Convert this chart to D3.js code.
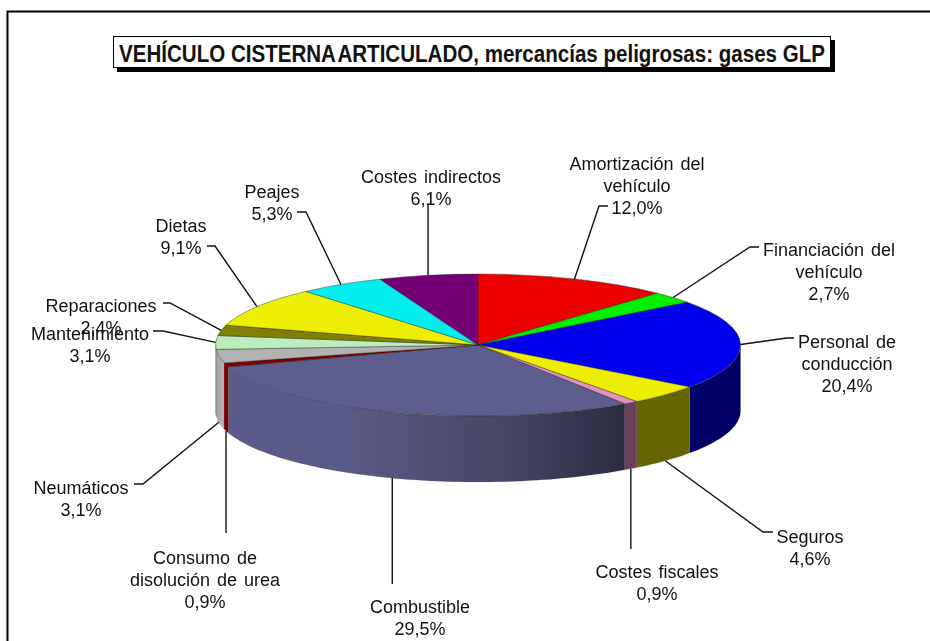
<!DOCTYPE html>
<html>
<head>
<meta charset="utf-8">
<script src="https://cdn.jsdelivr.net/npm/d3@7"></script>
<style>
  html, body { margin: 0; padding: 0; background: #fff; overflow: hidden; }
  svg { display: block; filter: blur(0.35px); }
  text { font-family: "Liberation Sans", Arial, sans-serif; fill: #111; }
</style>
</head>
<body>
<svg width="930" height="641"></svg>
<script>
// values, clockwise from 12 o'clock
var categories = [
  "Amortización del vehículo", "Financiación del vehículo", "Personal de conducción",
  "Seguros", "Costes fiscales", "Combustible", "Consumo de disolución de urea",
  "Neumáticos", "Mantenimiento", "Reparaciones", "Dietas", "Peajes", "Costes indirectos"
];
var values = [12.0, 2.7, 20.4, 4.6, 0.9, 29.5, 0.9, 3.1, 3.1, 2.4, 9.1, 5.3, 6.1];
var titleStart = "VEHÍCULO CISTERNA";
var titleEnd = "ARTICULADO, mercancías peligrosas: gases GLP";

// how the category names wrap in the labels
var labelLines = [
  ["Amortización del", "vehículo"], ["Financiación del", "vehículo"], ["Personal de", "conducción"],
  ["Seguros"], ["Costes fiscales"], ["Combustible"], ["Consumo de", "disolución de urea"],
  ["Neumáticos"], ["Mantenimiento"], ["Reparaciones"], ["Dietas"], ["Peajes"], ["Costes indirectos"]
];

// styles
var topColors = ["#ee0000", "#00ee00", "#0000ee", "#eeee00", "#e78fc0", "#5e5e8e", "#800000",
                 "#b2b2b2", "#bbeebb", "#807f00", "#eeee00", "#00eeee", "#750075"];
var sideColors = ["#800000", "#008000", "#000066", "#666600", "#6c4058", "url(#fuel)", "#800000",
                  "url(#tyres)", "#a8a8a8", "#666600", "#808000", "#008080", "#400040"];

// label layout: centre x, y of first line, where the leader starts and its elbow
var labelPos = [
  {x: 637, y: 163, from: [608, 206], elbow: [599, 206]},
  {x: 829, y: 249, from: [759, 247], elbow: [750, 247]},
  {x: 847, y: 341, from: [794, 338], elbow: [787, 338]},
  {x: 810, y: 536, from: [773, 532], elbow: [763, 532]},
  {x: 657, y: 571, from: [630, 549], elbow: null},
  {x: 420, y: 606, from: [392, 584], elbow: null},
  {x: 205, y: 557, from: [226, 533], elbow: null},
  {x: 81,  y: 487, from: [134, 484], elbow: [143, 484]},
  {x: 90,  y: 333, from: [153, 331], elbow: [163, 331]},
  {x: 101, y: 305, from: [163, 303], elbow: [170, 303]},
  {x: 181, y: 225, from: [207, 246], elbow: [215, 246]},
  {x: 272, y: 191, from: [297, 212], elbow: [306, 212]},
  {x: 431, y: 176, from: [428, 204], elbow: null}
];

var cx = 478, cy = 345, rx = 262.5, ry = 71, depth = 66;
var lineHeight = 22;

var svg = d3.select("svg");
var fmt = function(v) { return v.toFixed(1).replace(".", ",") + "%"; };

var defs = svg.append("defs");
function gradient(id, stops) {
  defs.append("linearGradient").attr("id", id)
    .selectAll("stop").data(stops).enter().append("stop")
    .attr("offset", function(d) { return d[0]; })
    .attr("stop-color", function(d) { return d[1]; });
}
gradient("fuel", [[0, "#5c5c8c"], [0.3, "#5a5a86"], [0.69, "#474766"], [1, "#2c2c40"]]);
gradient("tyres", [[0, "#a0a0a0"], [1, "#b8b8b8"]]);

// frame, open on the right and at the bottom like the picture
svg.append("path")
  .attr("d", "M7.5,641V11.5H930")
  .attr("fill", "none").attr("stroke", "#000").attr("stroke-width", 2);

// title box with its shadow
svg.append("rect").attr("x", 117).attr("y", 40).attr("width", 718).attr("height", 32).attr("fill", "#000");
svg.append("rect").attr("x", 113.5).attr("y", 36.5).attr("width", 717).attr("height", 31)
  .attr("fill", "#fff").attr("stroke", "#000").attr("stroke-width", 1);
var title = svg.append("text").attr("x", 472).attr("y", 62).attr("text-anchor", "middle")
  .attr("font-size", 23).attr("font-weight", "bold")
  .attr("textLength", 706).attr("lengthAdjust", "spacingAndGlyphs");
title.append("tspan").text(titleStart + " ");
title.append("tspan").attr("dx", -3).text(titleEnd);

var pie = d3.pie().sort(null);
var slices = pie(values);

// d3 angles: 0 at 12 o'clock, clockwise
var px = function(a) { return cx + rx * Math.sin(a); };
var py = function(a) { return cy - ry * Math.cos(a); };

// side wall, only the part between 3 and 9 o'clock can be seen
var sideLine = d3.line();
function sidePath(d) {
  var a0 = Math.max(d.startAngle, Math.PI / 2), a1 = Math.min(d.endAngle, 3 * Math.PI / 2);
  if (a1 <= a0) return null;
  var n = Math.max(2, Math.ceil((a1 - a0) * 40));
  var ang = d3.range(n + 1).map(function(i) { return a0 + (a1 - a0) * i / n; });
  var pts = ang.map(function(a) { return [px(a), py(a)]; })
    .concat(ang.slice().reverse().map(function(a) { return [px(a), py(a) + depth]; }));
  return sideLine(pts) + "Z";
}

svg.append("g").selectAll("path")
  .data(slices.filter(function(d) { return sidePath(d); }))
  .enter().append("path")
  .attr("d", sidePath)
  .attr("fill", function(d) { return sideColors[d.index]; })
  .attr("stroke", "#333").attr("stroke-opacity", 0.3).attr("stroke-width", 0.4);

// top face is a circular pie squashed into an ellipse
var arc = d3.arc().innerRadius(0).outerRadius(rx);
svg.append("g")
  .attr("transform", "translate(" + cx + "," + cy + ") scale(1," + (ry / rx) + ")")
  .selectAll("path").data(slices).enter().append("path")
  .attr("d", arc)
  .attr("fill", function(d) { return topColors[d.index]; })
  .attr("stroke", "#222").attr("stroke-opacity", 0.6).attr("stroke-width", 0.7)
  .attr("vector-effect", "non-scaling-stroke");

// leaders end at the middle of each slice, on the lower rim for the front ones
var leader = d3.line();
svg.append("g").selectAll("path").data(slices).enter().append("path")
  .attr("d", function(d) {
    var p = labelPos[d.index];
    var mid = (d.startAngle + d.endAngle) / 2;
    var front = Math.cos(mid) < 0;
    var end = [px(mid), py(mid) + (front ? depth : 0)];
    // leaders without an elbow run straight up or down
    return leader(p.elbow ? [p.from, p.elbow, end] : [[end[0], p.from[1]], end]);
  })
  .attr("fill", "none").attr("stroke", "#111").attr("stroke-width", 1.4);

// labels
var labels = svg.append("g").selectAll("text").data(slices).enter().append("text")
  .attr("text-anchor", "middle").attr("font-size", 18).attr("word-spacing", 2)
  .attr("x", function(d) { return labelPos[d.index].x; })
  .attr("y", function(d) { return labelPos[d.index].y + 6.5; });
labels.each(function(d) {
  var lines = labelLines[d.index].concat([fmt(values[d.index])]);
  d3.select(this).selectAll("tspan").data(lines).enter().append("tspan")
    .attr("x", labelPos[d.index].x)
    .attr("dy", function(t, i) { return i ? lineHeight : 0; })
    .text(function(t) { return t; });
});
</script>
</body>
</html>
